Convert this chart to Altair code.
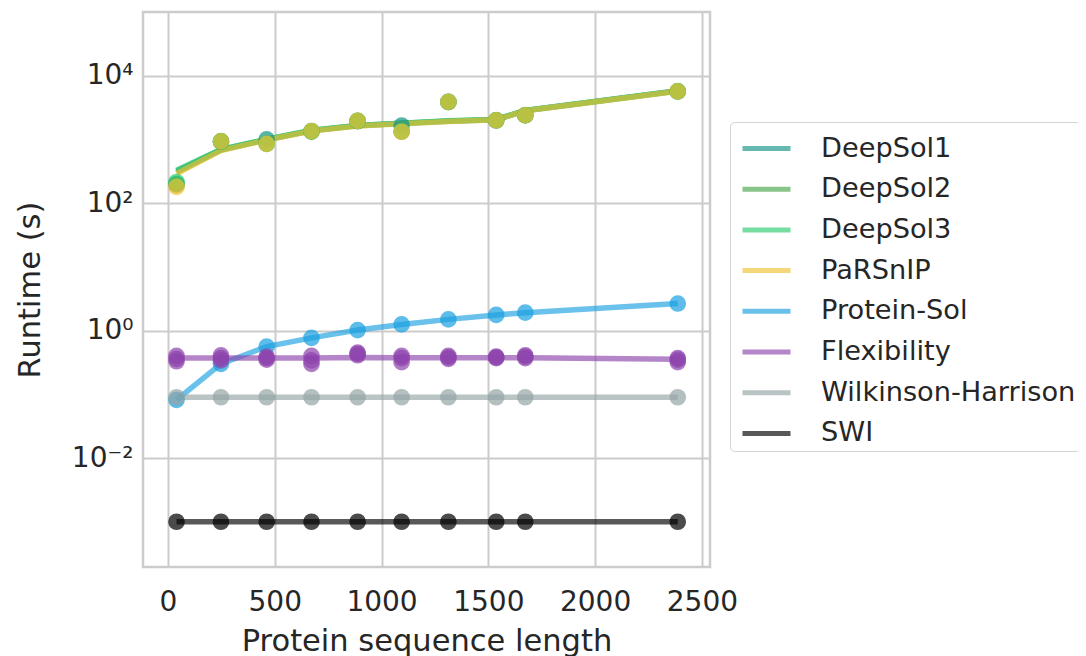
import altair as alt
import pandas as pd

series = ["DeepSol1", "DeepSol2", "DeepSol3", "PaRSnIP", "Protein-Sol",
          "Flexibility", "Wilkinson-Harrison", "SWI"]
colors = ["#139486", "#4ba54b", "#2ecc71", "#f1c232", "#1aa0e0",
          "#8e44ad", "#95a5a6", "#000000"]
lengths = [40, 248, 462, 672, 888, 1094, 1313, 1537, 1673, 2387]

# mean runtime per method (lines)
line_deepsol1 = [320, 690, 1000, 1380, 1650, 1800, 1950, 2050, 2850, 5800]
line_deepsol2 = [300, 680, 990, 1370, 1640, 1780, 1930, 2040, 2830, 5750]
line_deepsol3 = [330, 700, 1010, 1390, 1660, 1790, 1960, 2060, 2860, 5780]
line_parsnip = [290, 670, 980, 1360, 1630, 1770, 1920, 2030, 2820, 5720]
line_proteinsol = [0.082, 0.30, 0.56, 0.77, 1.02, 1.25, 1.5, 1.76, 1.91, 2.66]
line_flex = [0.37, 0.37, 0.37, 0.37, 0.38, 0.375, 0.375, 0.375, 0.375, 0.355]
line_wh = [0.09, 0.09, 0.09, 0.09, 0.09, 0.09, 0.09, 0.09, 0.09, 0.09]
line_swi = [0.001, 0.001, 0.001, 0.001, 0.001, 0.001, 0.001, 0.001, 0.001, 0.001]

# individual runs (points)
pts_deepsol1 = [[200, 930, 1000, 1350, 1950, 1650, 3900, 2000, 2400, 5700]]
pts_deepsol2 = [[195, 920, 860, 1330, 1930, 1330, 3850, 1980, 2380, 5650]]
pts_deepsol3 = [[215, 940, 850, 1340, 1960, 1340, 3880, 2010, 2420, 5750]]
pts_parsnip = [[180, 930, 850, 1350, 1950, 1320, 3900, 2000, 2400, 5700]]
pts_proteinsol = [[0.082, 0.30, 0.56, 0.77, 1.02, 1.25, 1.5, 1.76, 1.91, 2.66]]
pts_flex = [[0.40, 0.41, 0.39, 0.40, 0.45, 0.40, 0.40, 0.39, 0.41, 0.37],
            [0.36, 0.37, 0.37, 0.34, 0.43, 0.37, 0.38, 0.38, 0.39, 0.35],
            [0.33, 0.34, 0.35, 0.30, 0.41, 0.32, 0.36, 0.37, 0.37, 0.32]]
pts_wh = [[0.09, 0.09, 0.09, 0.09, 0.09, 0.09, 0.09, 0.09, 0.09, 0.09]]
pts_swi = [[0.001, 0.001, 0.001, 0.001, 0.001, 0.001, 0.001, 0.001, 0.001, 0.001]]

line_values = [line_deepsol1, line_deepsol2, line_deepsol3, line_parsnip,
               line_proteinsol, line_flex, line_wh, line_swi]
point_values = [pts_deepsol1, pts_deepsol2, pts_deepsol3, pts_parsnip,
                pts_proteinsol, pts_flex, pts_wh, pts_swi]

line_rows = []
for s, vals in zip(series, line_values):
    for x, v in zip(lengths, vals):
        line_rows.append({"method": s, "length": x, "runtime": v})
point_rows = []
for s, reps in zip(series, point_values):
    for vals in reps:
        for x, v in zip(lengths, vals):
            point_rows.append({"method": s, "length": x, "runtime": v})

lines_df = pd.DataFrame(line_rows)
points_df = pd.DataFrame(point_rows)

FONT = "DejaVu Sans"
TXT = "#262626"

x_enc = alt.X("length:Q",
              scale=alt.Scale(domain=[-117, 2538], nice=False, zero=False),
              axis=alt.Axis(values=[0, 500, 1000, 1500, 2000, 2500],
                            format="d",
                            title="Protein sequence length",
                            labelPadding=21, titleY=83,
                            titleBaseline="alphabetic"))
y_enc = alt.Y("runtime:Q",
              scale=alt.Scale(type="log", domain=[0.000195, 100000], nice=False),
              axis=alt.Axis(values=[0.01, 1, 100, 10000],
                            labelExpr="datum.value >= 5000 ? '10⁴' : datum.value >= 50 ? '10²' : datum.value >= 0.5 ? '10⁰' : '10⁻²'",
                            title="Runtime (s)", labelPadding=10,
                            titleX=-113, titleY=277.5, titleAngle=-90,
                            titleAlign="center", titleBaseline="middle"))
color_scale = alt.Scale(domain=series, range=colors)

lines = alt.Chart(lines_df).mark_line(strokeWidth=5.5, opacity=0.65).encode(
    x=x_enc, y=y_enc,
    color=alt.Color("method:N", scale=color_scale, sort=series,
                    legend=alt.Legend(title=None, orient="none",
                                      legendX=587, legendY=110,
                                      symbolType="M-1.2,0L1.2,0",
                                      symbolSize=1600, symbolStrokeWidth=5,
                                      symbolOpacity=0.65, symbolOffset=10,
                                      labelFontSize=27.2, labelFont=FONT,
                                      labelColor=TXT, labelOffset=32,
                                      rowPadding=4.7, padding=4,
                                      strokeColor="#d4d4d4", fillColor="white",
                                      cornerRadius=4, labelLimit=400)),
)

points = alt.Chart(points_df).mark_point(filled=True, size=230, opacity=0.7,
                                         strokeWidth=1.5).encode(
    x=x_enc, y=y_enc,
    color=alt.Color("method:N", scale=color_scale, sort=series, legend=None),
    stroke=alt.Stroke("method:N", scale=color_scale, sort=series, legend=None),
)

chart = alt.layer(lines, points).properties(
    width=567, height=555,
    padding={"left": 135, "top": 4, "right": 368, "bottom": 89},
    autosize=alt.AutoSizeParams(type="none"),
).configure_view(
    stroke="#cccccc", strokeWidth=2.5
).configure_axis(
    labelFont=FONT, titleFont=FONT, labelFontSize=28, titleFontSize=30.5,
    titleFontWeight="normal", labelColor=TXT, titleColor=TXT,
    grid=True, gridColor="#cccccc", gridWidth=2, domain=False, ticks=False,
    tickSize=0,
)

chart.save("out.html", embed_options={"renderer": "svg", "actions": False})
